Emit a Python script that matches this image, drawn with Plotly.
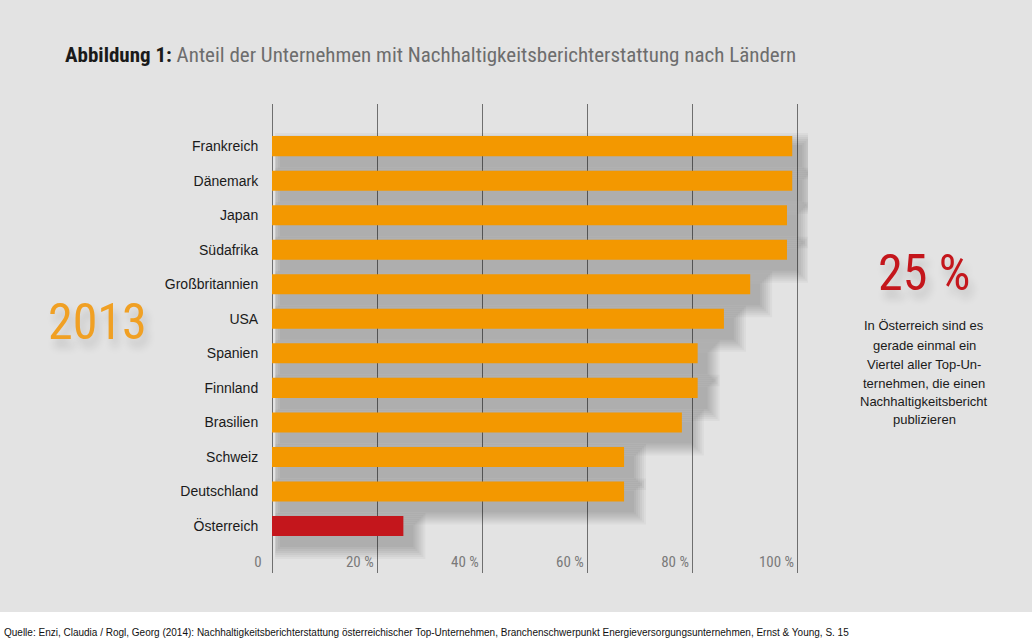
import plotly.graph_objects as go

countries = ["Frankreich", "Dänemark", "Japan", "Südafrika", "Großbritannien", "USA",
             "Spanien", "Finnland", "Brasilien", "Schweiz", "Deutschland", "Österreich"]
shares = [99, 99, 98, 98, 91, 86, 81, 81, 78, 67, 67, 25]
highlight = "Österreich"
tick_values = [0, 20, 40, 60, 80, 100]
tick_labels = ["0", "20 %", "40 %", "60 %", "80 %", "100 %"]

W, H = 1032, 644
L, T, PW, PH = 267, 104, 541, 469
XR = [-0.952, 102]
YR = [12.36, -1.22]
ppx = PW / (XR[1] - XR[0])
ppy = PH / (YR[0] - YR[1])

NARROW = "Roboto Condensed, Liberation Sans Narrow, DejaVu Sans Condensed, sans-serif"
SANS = "Liberation Sans, Arial, Helvetica, sans-serif"
ORANGE = "#f39800"
RED = "#c4161c"

def pxx(px):
    return (px - L) / PW

def pxy(py):
    return (T + PH - py) / PH

fig = go.Figure()

# soft drop shadows under the bars
bar_w = 0.58
sx, sy = 9, 10
for s in [13, 11, 9, 7, 5, 3, 1]:
    w = bar_w + 2 * s / ppy
    b = max(0.6, (sx - s) / ppx)
    fig.add_trace(go.Bar(
        y=countries, x=[v + (sx + s) / ppx - b for v in shares],
        base=b, orientation="h",
        width=w, offset=-w / 2 + sy / ppy,
        marker=dict(color="rgba(0,0,0,0.034)", line=dict(width=0)),
        hoverinfo="skip", showlegend=False))

fig.add_trace(go.Bar(
    y=countries, x=shares, orientation="h", width=bar_w,
    marker=dict(color=[RED if c == highlight else ORANGE for c in countries],
                line=dict(width=0)),
    showlegend=False))

fig.update_layout(
    width=W, height=H, autosize=False,
    margin=dict(l=L, t=T, r=W - L - PW, b=H - T - PH, pad=0),
    paper_bgcolor="#e3e3e3", plot_bgcolor="#e3e3e3",
    barmode="overlay",
    xaxis=dict(range=XR, tickvals=tick_values,
               ticktext=[t + ("\u00a0\u00a0\u00a0" if t == "0" else "\u00a0") for t in tick_labels],
               showgrid=True, gridcolor="#6f6f6f", gridwidth=1, zeroline=False,
               ticks="", showline=False, ticklabelposition="inside left",
               ticklabeloverflow="allow", ticklabelstandoff=-3,
               tickfont=dict(family=NARROW, size=15, color="#7a7a7a"),
               fixedrange=True),
    yaxis=dict(range=YR, type="category", showgrid=False, zeroline=False,
               ticks="outside", ticklen=5, tickcolor="rgba(0,0,0,0)",
               tickfont=dict(family=SANS, size=14, color="#1a1a1a"),
               automargin=False, fixedrange=True),
    shapes=[dict(type="rect", xref="paper", yref="paper",
                 x0=pxx(-10), x1=pxx(W + 10), y0=pxy(H + 10), y1=pxy(612),
                 fillcolor="white", line=dict(width=0), layer="below")],
)

ann = []
ann.append(dict(x=pxx(63), y=pxy(55), xref="paper", yref="paper", xanchor="left",
                yanchor="middle", showarrow=False,
                text="<b>Abbildung 1:</b> <span style='color:#6d6d6d'>Anteil der Unternehmen mit Nachhaltigkeitsberichterstattung nach Ländern</span>",
                font=dict(family=NARROW, size=21, color="#1a1a1a")))
ann.append(dict(x=pxx(97), y=pxy(322), xref="paper", yref="paper", xanchor="center",
                yanchor="middle", showarrow=False, text="2013",
                font=dict(family=NARROW, size=50, color="#f0a024",
                          shadow="4px 8px 8px rgba(0,0,0,0.16)")))
ann.append(dict(x=pxx(924), y=pxy(273), xref="paper", yref="paper", xanchor="center",
                yanchor="middle", showarrow=False, text="25 %",
                font=dict(family=NARROW, size=50, color=RED,
                          shadow="4px 8px 8px rgba(0,0,0,0.16)")))
para = ["In Österreich sind es", "gerade einmal ein", "Viertel aller Top-Un-",
        "ternehmen, die einen", "Nachhaltigkeitsbericht", "publizieren"]
para_y = [325, 345, 364, 383, 401, 419]
for line, yy in zip(para, para_y):
    ann.append(dict(x=pxx(924), y=pxy(yy), xref="paper", yref="paper", xanchor="center",
                    yanchor="middle", showarrow=False, text=line,
                    font=dict(family=SANS, size=13, color="#1a1a1a")))
ann.append(dict(x=pxx(2), y=pxy(632), xref="paper", yref="paper", xanchor="left",
                yanchor="middle", showarrow=False,
                text="Quelle: Enzi, Claudia / Rogl, Georg (2014): Nachhaltigkeitsberichterstattung österreichischer Top-Unternehmen, Branchenschwerpunkt Energieversorgungsunternehmen, Ernst & Young, S. 15",
                font=dict(family=SANS, size=10, color="#111111")))
fig.update_layout(annotations=ann)

fig.write_html("out.html")
